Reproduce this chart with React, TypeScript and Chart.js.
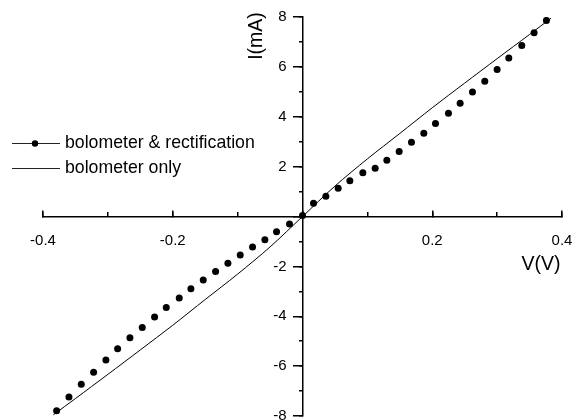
import React, { useEffect, useRef } from "react";
import { Chart, registerables } from "chart.js";

Chart.register(...registerables);

// "bolometer & rectification" measured points (V in volts, I in mA)
const rectV = [
  -0.379, -0.360, -0.341, -0.322, -0.303, -0.285, -0.266, -0.247, -0.228, -0.210,
  -0.190, -0.172, -0.153, -0.134, -0.115, -0.096, -0.077, -0.058, -0.040, -0.020,
  0.0,
  0.017, 0.036, 0.055, 0.073, 0.093, 0.112, 0.130, 0.149, 0.168, 0.187,
  0.205, 0.225, 0.243, 0.262, 0.281, 0.300, 0.318, 0.338, 0.357, 0.376,
];
const rectI = [
  -7.79, -7.24, -6.73, -6.25, -5.75, -5.30, -4.86, -4.45, -4.03, -3.65,
  -3.27, -2.90, -2.55, -2.21, -1.87, -1.54, -1.22, -0.93, -0.61, -0.30,
  0.04,
  0.53, 0.81, 1.13, 1.43, 1.75, 1.93, 2.26, 2.61, 2.98, 3.34,
  3.73, 4.14, 4.54, 4.99, 5.42, 5.89, 6.36, 6.86, 7.37, 7.86,
];

// "bolometer only" curve
const bolV = [
  -0.384, -0.35, -0.3, -0.25, -0.2, -0.15, -0.1, -0.05, 0,
  0.05, 0.1, 0.15, 0.2, 0.25, 0.3, 0.35, 0.383,
];
const bolI = [
  -7.95, -7.30, -6.33, -5.35, -4.36, -3.33, -2.31, -1.22, 0,
  1.22, 2.31, 3.33, 4.36, 5.35, 6.33, 7.30, 7.95,
];

const xMajorLabels = ["-0.4", "-0.2", "0.2", "0.4"];
const yMajorLabels = ["8", "6", "4", "2", "-2", "-4", "-6", "-8"];

const seriesNames = ["bolometer & rectification", "bolometer only"];
const xTitle = "V(V)";
const yTitle = "I(mA)";

const FONT = '"Liberation Sans", Arial, Helvetica, sans-serif';
// gap between the y tick labels and the axis (label text is right-aligned at the axis)
const Y_LABEL_GAP = "\u2007\u2002";

const noPad = (scale: any) => {
  scale.paddingLeft = 0;
  scale.paddingRight = 0;
  scale.paddingTop = 0;
  scale.paddingBottom = 0;
};

const overlayPlugin = {
  id: "overlay",
  afterDraw(chart: any) {
    const ctx = chart.ctx as CanvasRenderingContext2D;
    ctx.save();
    ctx.fillStyle = "#000";
    ctx.strokeStyle = "#222";
    // legend
    const rows = [143, 168];
    rows.forEach((ry, i) => {
      ctx.beginPath();
      ctx.lineWidth = 1;
      ctx.moveTo(12, ry + 0.5);
      ctx.lineTo(60, ry + 0.5);
      ctx.stroke();
      if (i === 0) {
        ctx.beginPath();
        ctx.arc(35, ry + 0.5, 3.2, 0, Math.PI * 2);
        ctx.fill();
      }
      ctx.font = `17.7px ${FONT}`;
      ctx.textAlign = "left";
      ctx.textBaseline = "middle";
      ctx.fillText(seriesNames[i], 65, ry);
    });
    // axis titles
    ctx.font = `19.5px ${FONT}`;
    ctx.textAlign = "center";
    ctx.textBaseline = "middle";
    ctx.fillText(xTitle, 541, 265);
    ctx.save();
    ctx.translate(257, 36);
    ctx.rotate(-Math.PI / 2);
    ctx.fillText(yTitle, 0, 0);
    ctx.restore();
    ctx.restore();
  },
};

export default function App() {
  const ref = useRef<HTMLCanvasElement | null>(null);
  useEffect(() => {
    if (!ref.current) return;
    const tickFont = { family: FONT, size: 15 };
    const chart = new Chart(ref.current, {
      type: "scatter",
      data: {
        datasets: [
          {
            label: seriesNames[0],
            data: rectV.map((v, i) => ({ x: v, y: rectI[i] })),
            showLine: false,
            pointRadius: 3.5,
            pointBackgroundColor: "#000",
            pointBorderColor: "#000",
            pointBorderWidth: 0,
            xAxisID: "x",
            yAxisID: "y",
          },
          {
            label: seriesNames[1],
            data: bolV.map((v, i) => ({ x: v, y: bolI[i] })),
            showLine: true,
            borderColor: "#000",
            borderWidth: 1,
            pointRadius: 0,
            tension: 0.3,
            xAxisID: "x",
            yAxisID: "y",
          },
        ],
      },
      options: {
        animation: false,
        responsive: false,
        devicePixelRatio: 1,
        layout: { padding: { left: 43, right: 18, top: 17, bottom: 0 } },
        plugins: { legend: { display: false }, tooltip: { enabled: false } },
        scales: {
          x: {
            type: "linear",
            position: { y: 0 } as any,
            min: -0.4,
            max: 0.4,
            afterFit: noPad,
            ticks: {
              stepSize: 0.2,
              autoSkip: false,
              maxRotation: 0,
              color: "#000",
              font: tickFont,
              padding: 22,
              callback: (v: any) => {
                const k = Math.round(Number(v) * 10);
                const idx = [-4, -2, 2, 4].indexOf(k);
                return idx >= 0 ? xMajorLabels[idx] : "";
              },
            },
            grid: { drawOnChartArea: false, drawTicks: true, tickLength: -7, color: "#000", lineWidth: 1.5 },
            border: { display: true, color: "#000", width: 1.5 },
          },
          x2: {
            type: "linear",
            axis: "x",
            position: { y: 0 } as any,
            min: -0.4,
            max: 0.4,
            afterFit: noPad,
            ticks: { stepSize: 0.1, autoSkip: false, display: false },
            grid: { drawOnChartArea: false, drawTicks: true, tickLength: -5, color: "#000", lineWidth: 1.5 },
            border: { display: false },
          },
          y: {
            type: "linear",
            position: { x: 0 } as any,
            min: -8,
            max: 8,
            afterFit: noPad,
            ticks: {
              stepSize: 2,
              autoSkip: false,
              color: "#000",
              font: tickFont,
              padding: 5,
              callback: (v: any) => {
                const k = Math.round(Number(v));
                const idx = [8, 6, 4, 2, -2, -4, -6, -8].indexOf(k);
                return idx >= 0 ? yMajorLabels[idx] + Y_LABEL_GAP : "";
              },
            },
            grid: { drawOnChartArea: false, drawTicks: true, tickLength: 9, color: "#000", lineWidth: 1.5 },
            border: { display: true, color: "#000", width: 1.5 },
          },
          y2: {
            type: "linear",
            axis: "y",
            position: { x: 0 } as any,
            min: -8,
            max: 8,
            afterFit: noPad,
            ticks: { stepSize: 1, autoSkip: false, display: false },
            grid: { drawOnChartArea: false, drawTicks: true, tickLength: 4, color: "#000", lineWidth: 1.5 },
            border: { display: false },
          },
        },
      } as any,
      plugins: [overlayPlugin],
    });
    return () => chart.destroy();
  }, []);
  return (
    <div style={{ position: "absolute", left: 0, top: 0, width: 580, height: 420, background: "#fff" }}>
      <canvas ref={ref} width={580} height={420} style={{ width: 580, height: 420, display: "block" }} />
    </div>
  );
}
